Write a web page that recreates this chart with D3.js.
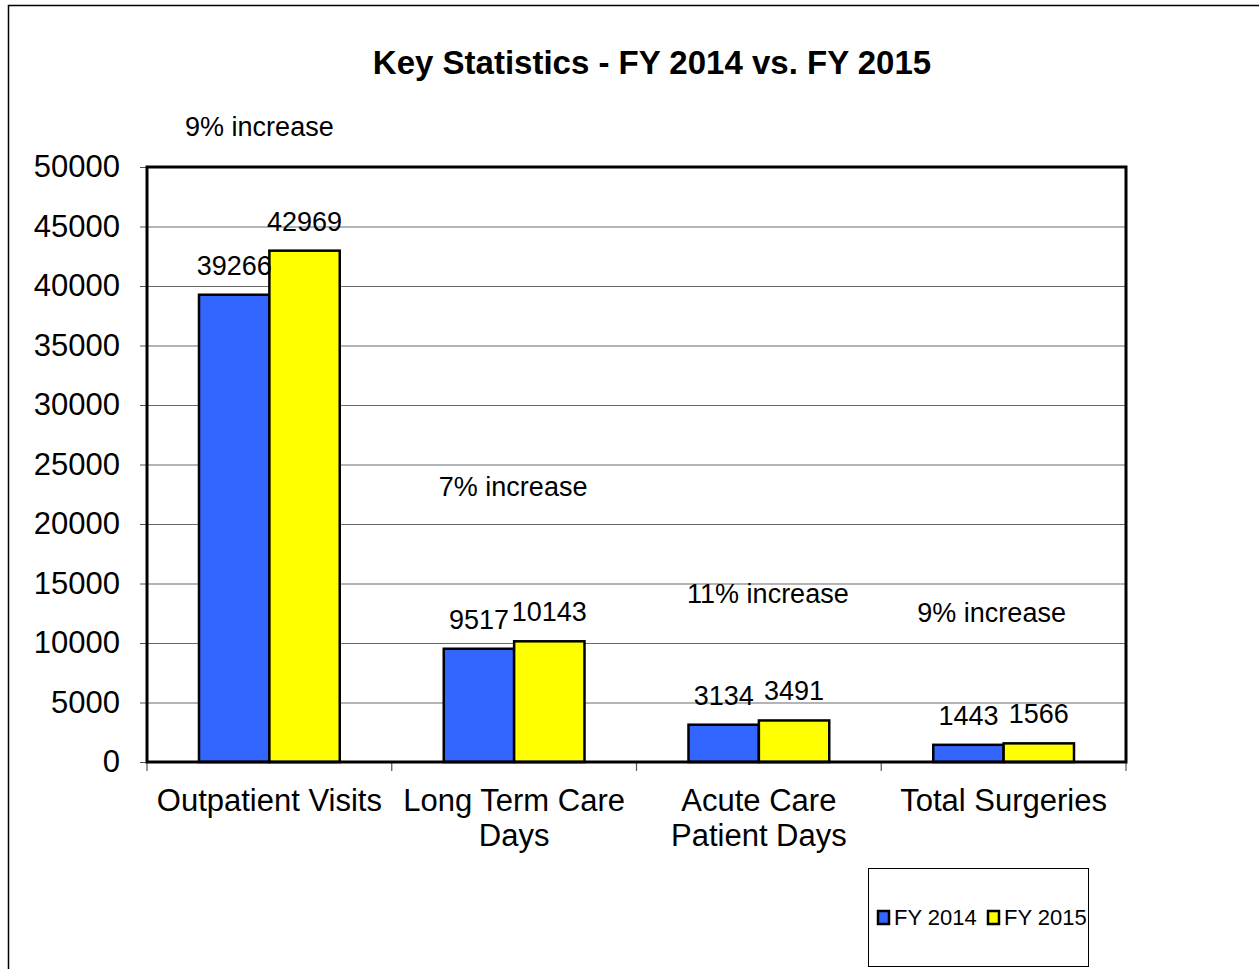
<!DOCTYPE html>
<html>
<head>
<meta charset="utf-8">
<script src="https://cdn.jsdelivr.net/npm/d3@7"></script>
<style>
  body { margin: 0; background: #fff; }
  svg { font-family: "Liberation Sans", Arial, sans-serif; display: block; }
</style>
</head>
<body>
<svg id="chart" width="1259" height="969"></svg>
<script>
// data
const categories = [["Outpatient Visits"], ["Long Term Care", "Days"], ["Acute Care", "Patient Days"], ["Total Surgeries"]];
const seriesNames = ["FY 2014", "FY 2015"];
const fy2014 = [39266, 9517, 3134, 1443];
const fy2015 = [42969, 10143, 3491, 1566];
const yTicks = [0, 5000, 10000, 15000, 20000, 25000, 30000, 35000, 40000, 45000, 50000];
const notes = ["9% increase", "7% increase", "11% increase", "9% increase"];
const noteLevels = [53445, 23190, 14120, 12600];   // where each text box sits, in axis units
const noteShift = [-10, -1, 9, -12];

const colors = ["#3366FF", "#FFFF00"];

const svg = d3.select("#chart");
const width = 1259, height = 969;
const margin = {top: 167, right: 133, bottom: 207, left: 147};
const innerW = width - margin.left - margin.right;
const innerH = height - margin.top - margin.bottom;

// outer frame (right & bottom fall outside the picture)
svg.append("rect")
  .attr("x", 8.5).attr("y", 5.5)
  .attr("width", 1300).attr("height", 1000)
  .attr("fill", "none").attr("stroke", "#000").attr("stroke-width", 1.5);

svg.append("text")
  .attr("x", 652).attr("y", 74)
  .attr("text-anchor", "middle")
  .attr("font-size", 33).attr("font-weight", "bold")
  .text("Key Statistics - FY 2014 vs. FY 2015");

const g = svg.append("g").attr("transform", `translate(${margin.left},${margin.top})`);

const x = d3.scaleBand().domain(d3.range(categories.length)).range([0, innerW]);
const xs = d3.scaleBand().domain(d3.range(seriesNames.length))
  .range([52, x.bandwidth() - 52]);
const y = d3.scaleLinear().domain([0, 50000]).range([innerH, 0]);

// gridlines
g.append("g").selectAll("line").data(yTicks.slice(1, -1)).join("line")
  .attr("x1", 0).attr("x2", innerW)
  .attr("y1", d => y(d) + 0.5).attr("y2", d => y(d) + 0.5)
  .attr("stroke", "#6a6a6a").attr("stroke-width", 1.2);

// y axis
const yAxis = d3.axisLeft(y).tickValues(yTicks).tickSize(7).tickPadding(20).tickFormat(d3.format("d"));
const yAxisG = g.append("g").call(yAxis);
yAxisG.select(".domain").remove();
yAxisG.selectAll(".tick line").attr("stroke", "#555");
yAxisG.selectAll("text").attr("font-size", 31).attr("fill", "#000")
  .attr("font-family", "Liberation Sans, Arial, sans-serif");

// x ticks at category boundaries
g.append("g").selectAll("line").data(d3.range(categories.length + 1)).join("line")
  .attr("x1", d => d * x.step()).attr("x2", d => d * x.step())
  .attr("y1", innerH).attr("y2", innerH + 9)
  .attr("stroke", "#555").attr("stroke-width", 1.2);

// bars
const rows = categories.map((c, i) => [fy2014[i], fy2015[i]]);
const groups = g.append("g").selectAll("g").data(rows).join("g")
  .attr("transform", (d, i) => `translate(${x(i)},0)`);

groups.selectAll("rect").data(d => d).join("rect")
  .attr("x", (d, j) => xs(j))
  .attr("y", d => y(d))
  .attr("width", xs.bandwidth())
  .attr("height", d => innerH - y(d))
  .attr("fill", (d, j) => colors[j])
  .attr("stroke", "#000").attr("stroke-width", 2.5);

groups.selectAll("text").data(d => d).join("text")
  .attr("x", (d, j) => xs(j) + xs.bandwidth() / 2)
  .attr("y", d => y(d) - 20)
  .attr("text-anchor", "middle")
  .attr("font-size", 27)
  .text(d => d);

// plot frame
g.append("path")
  .attr("d", `M0,${innerH}V0H${innerW}V${innerH}Z`)
  .attr("fill", "none").attr("stroke", "#000").attr("stroke-width", 3);

// category labels
const catG = g.append("g").selectAll("text").data(categories).join("text")
  .attr("x", (d, i) => x(i) + x.bandwidth() / 2)
  .attr("y", innerH + 49)
  .attr("text-anchor", "middle")
  .attr("font-size", 31);
catG.selectAll("tspan").data(d => d).join("tspan")
  .attr("x", function () { return d3.select(this.parentNode).attr("x"); })
  .attr("dy", (d, k) => k === 0 ? 0 : 35)
  .text(d => d);

// increase notes
g.append("g").selectAll("text").data(notes).join("text")
  .attr("x", (d, i) => x(i) + x.bandwidth() / 2 + noteShift[i])
  .attr("y", (d, i) => y(noteLevels[i]) + 9.5)
  .attr("text-anchor", "middle")
  .attr("font-size", 27)
  .text(d => d);

// legend
const leg = svg.append("g").attr("transform", "translate(868,868)");
leg.append("rect").attr("x", 0.5).attr("y", 0.5).attr("width", 220).attr("height", 98)
  .attr("fill", "#fff").attr("stroke", "#000").attr("stroke-width", 1);
const items = leg.selectAll("g.item").data(seriesNames).join("g")
  .attr("class", "item")
  .attr("transform", (d, i) => `translate(${10 + i * 110},0)`);
items.append("rect").attr("x", 0).attr("y", 43).attr("width", 11).attr("height", 13)
  .attr("fill", (d, i) => colors[i]).attr("stroke", "#000").attr("stroke-width", 2.5);
items.append("text").attr("x", 16).attr("y", 57).attr("font-size", 22).text(d => d);
</script>
</body>
</html>
